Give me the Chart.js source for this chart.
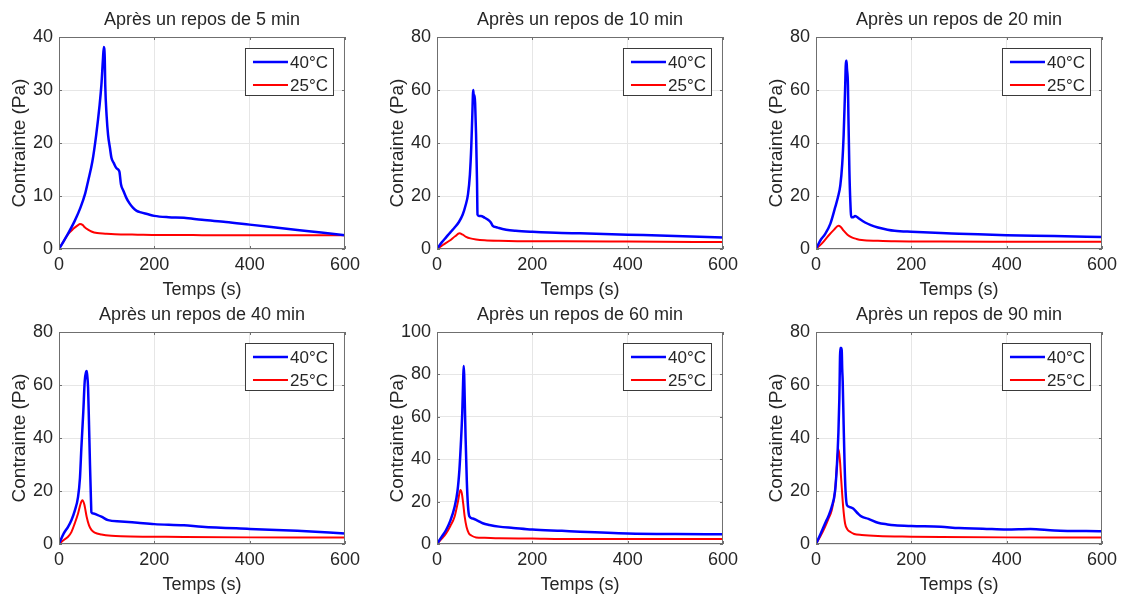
<!DOCTYPE html>
<html>
<head>
<meta charset="utf-8">
<title>Contrainte vs temps</title>
<script src="https://cdn.jsdelivr.net/npm/chart.js@4/dist/chart.umd.min.js"></script>
<style>
  body { margin: 0; background: #fff; overflow: hidden; }
  #wrap { position: relative; width: 1122px; height: 597px; }
  #wrap canvas { position: absolute; }
</style>
</head>
<body>
<div id="wrap">
  <canvas id="c1" width="365" height="301" style="left:0px;top:0px"></canvas>
  <canvas id="c2" width="365" height="301" style="left:378px;top:0px"></canvas>
  <canvas id="c3" width="365" height="301" style="left:757px;top:0px"></canvas>
  <canvas id="c4" width="365" height="301" style="left:0px;top:295px"></canvas>
  <canvas id="c5" width="365" height="301" style="left:378px;top:295px"></canvas>
  <canvas id="c6" width="365" height="301" style="left:757px;top:295px"></canvas>
</div>
<script>
// repos de 5 min
var t05b = [0, 10, 19, 33, 45, 55, 61, 70, 78, 85, 89, 92, 94, 96, 97, 100, 103, 107, 110, 115, 120, 125, 127, 130, 135, 141, 148, 155, 163, 172, 185, 200, 230, 262, 300, 350, 400, 450, 500, 550, 600]
var v05b = [0, 1.5, 2.9, 5.3, 7.8, 10.5, 12.8, 16.5, 21.5, 27, 31, 35.5, 38.1, 36, 31, 25, 21.5, 19, 17.2, 16.2, 15.3, 14.9, 14.5, 12.2, 11, 9.7, 8.6, 7.8, 7.2, 6.9, 6.6, 6.25, 6.0, 5.9, 5.5, 5.1, 4.6, 4.1, 3.6, 3.1, 2.6]
var t05r = [0, 10, 19, 30, 40, 44, 50, 54, 60, 68, 80, 97, 130, 165, 200, 262, 300, 400, 500, 600]
var v05r = [0, 1.5, 2.8, 3.8, 4.5, 4.7, 4.5, 4.1, 3.7, 3.3, 3.0, 2.9, 2.75, 2.7, 2.65, 2.65, 2.6, 2.6, 2.6, 2.6]

// repos de 10 min
var t10b = [0, 10, 19, 28, 37, 46, 54, 60, 65, 69, 72, 74, 76, 77, 79, 80, 82, 84, 85, 88, 92, 100, 110, 113, 117, 125, 130, 145, 165, 200, 262, 300, 400, 500, 600]
var v10b = [0, 2.5, 4.4, 6.3, 8.1, 10.2, 13, 16.5, 20.6, 28, 39, 50, 60, 58, 58, 55, 43, 25, 13, 12.5, 12.5, 11.8, 10.6, 10, 8.7, 8.2, 7.9, 7.3, 6.9, 6.5, 6.0, 5.9, 5.4, 4.9, 4.3]
var t10r = [0, 13, 26, 38, 47, 54, 61, 70, 82, 100, 130, 200, 262, 400, 600]
var v10r = [0, 1.6, 3.1, 4.8, 5.9, 5.4, 4.6, 4.0, 3.6, 3.3, 3.1, 2.9, 2.9, 2.8, 2.6]

// repos de 20 min
var t20b = [0, 10, 19, 30, 40, 46, 51, 55, 58, 61, 63, 64, 65, 67, 68, 70, 72, 74, 78, 82, 90, 103, 115, 130, 150, 165, 200, 262, 300, 400, 500, 600]
var v20b = [0, 3.5, 5.6, 9.5, 15.6, 19.5, 24, 32, 43, 60, 71, 71, 68, 62, 50, 30, 18, 12, 12, 12.5, 11.5, 10, 9, 8.1, 7.3, 6.9, 6.5, 6.0, 5.8, 5.2, 4.9, 4.5]
var t20r = [0, 13, 26, 38, 47, 52, 58, 66, 75, 85, 96, 130, 165, 262, 400, 600]
var v20r = [0, 2.2, 5, 7.3, 8.75, 8.3, 6.9, 5.4, 4.4, 3.8, 3.4, 3.1, 2.9, 2.8, 2.75, 2.7]

// repos de 40 min
var t40b = [0, 10, 19, 26, 33, 40, 44, 47, 51, 54, 57, 58, 59, 61, 63, 65, 67, 68, 72, 80, 89, 103, 130, 165, 200, 262, 300, 400, 500, 600]
var v40b = [0, 4, 6.5, 9, 12.5, 17.8, 25, 36.5, 50, 61.5, 65, 65.3, 64, 59, 45, 30, 17, 12, 11.5, 11, 10.3, 9, 8.5, 8, 7.5, 7.1, 6.5, 5.7, 5.0, 4.0]
var t40r = [0, 10, 19, 26, 33, 40, 45, 49, 53, 58, 63, 68, 75, 89, 110, 130, 200, 262, 400, 600]
var v40r = [0, 1.5, 2.75, 4.5, 7.75, 11.5, 15, 16.5, 15, 10.3, 7, 5.3, 4.3, 3.6, 3.1, 2.9, 2.75, 2.6, 2.5, 2.5]

// repos de 60 min
var t60b = [0, 10, 19, 28, 37, 43, 47, 50, 53, 55, 56, 57, 58, 60, 62.5, 65, 68, 75, 85, 96, 110, 130, 160, 200, 262, 300, 400, 500, 600]
var v60b = [0, 3.5, 6.6, 11, 17.6, 25, 35, 47, 62, 78, 84, 80, 70, 50, 30, 18, 13, 12, 11, 9.8, 9, 8.2, 7.6, 6.8, 6.2, 5.8, 5.0, 4.7, 4.6]
var t60r = [0, 10, 19, 28, 37, 44, 49, 52, 55, 58, 62, 67, 72, 82, 100, 130, 200, 262, 400, 600]
var v60r = [0, 2.5, 5, 8.5, 13, 20, 25.5, 24, 19, 13, 8, 5, 4, 3.1, 2.9, 2.7, 2.6, 2.4, 2.4, 2.3]

// repos de 90 min
var t90b = [0, 10, 19, 26, 33, 40, 44, 47, 49, 51, 53, 54, 55, 56, 58, 60, 62, 65, 70, 78, 88, 96, 110, 130, 150, 165, 200, 262, 300, 350, 400, 450, 500, 600]
var v90b = [0, 4, 7.75, 10.5, 14, 20, 30, 42, 55, 74, 74, 73, 66, 61.5, 45, 30, 20, 14.6, 14, 13.4, 11.5, 10.3, 9.5, 8, 7.4, 7.1, 6.8, 6.5, 6.0, 5.8, 5.5, 5.7, 5.1, 4.8]
var t90r = [0, 10, 19, 26, 33, 40, 44, 47, 50, 53, 57, 61, 66, 71.5, 80, 96, 130, 200, 262, 400, 600]
var v90r = [0, 3.2, 6.5, 9.5, 12.75, 20, 30, 35.9, 32, 24, 14, 7.75, 5.5, 4.6, 3.8, 3.4, 3.0, 2.75, 2.6, 2.5, 2.5]

var titles = ['Après un repos de 5 min', 'Après un repos de 10 min', 'Après un repos de 20 min',
              'Après un repos de 40 min', 'Après un repos de 60 min', 'Après un repos de 90 min']
var yMaxes = [40, 80, 80, 80, 100, 80]
var yStepsz = [10, 20, 20, 20, 20, 20]
var xTicks = [0, 200, 400, 600]
var seriesNames = ['40°C', '25°C']

var fontFam = '"Liberation Sans", Arial, sans-serif'
Chart.defaults.font.family = fontFam
Chart.defaults.color = '#262626'

var txtColor = '#262626'

function pts(t, v){
  return t.map(function(x, i){ return {x: x, y: v[i]} })
}

// box around axes + small inward ticks like matlab
var framePlugin = {
  id: 'frame',
  afterDatasetsDraw: function(chart){
    var ctx = chart.ctx
    var a = chart.chartArea
    var xs = chart.scales.x, ys = chart.scales.y
    ctx.save()
    ctx.strokeStyle = '#6f6f6f'
    ctx.lineWidth = 1
    ctx.strokeRect(a.left + 0.5, a.top + 0.5, a.right - a.left - 1, a.bottom - a.top - 1)
    ctx.beginPath()
    xs.ticks.forEach(function(tk){
      var px = Math.round(xs.getPixelForValue(tk.value)) + 0.5
      ctx.moveTo(px, a.bottom); ctx.lineTo(px, a.bottom - 3)
      ctx.moveTo(px, a.top); ctx.lineTo(px, a.top + 3)
    })
    ys.ticks.forEach(function(tk){
      var py = Math.round(ys.getPixelForValue(tk.value)) + 0.5
      ctx.moveTo(a.left, py); ctx.lineTo(a.left + 3, py)
      ctx.moveTo(a.right, py); ctx.lineTo(a.right - 3, py)
    })
    ctx.stroke()
    ctx.restore()
  }
}

// title centred over the plot area (matlab style), not over the whole canvas
var axTitle = {
  id: 'axTitle',
  afterDraw: function(chart, args, opts){
    var ctx = chart.ctx
    var a = chart.chartArea
    ctx.save()
    ctx.fillStyle = txtColor
    ctx.font = '18px ' + fontFam
    ctx.textAlign = 'center'
    ctx.textBaseline = 'middle'
    ctx.fillText(opts.text, (a.left + a.right) / 2, a.top - 17)
    ctx.restore()
  }
}

// legend box in the top right corner of the plot area
var legendBox = {
  id: 'legendBox',
  afterDraw: function(chart){
    var ctx = chart.ctx
    var a = chart.chartArea
    var w = 88, h = 47
    var bx = a.right - 12 - w, by = a.top + 11
    ctx.save()
    ctx.fillStyle = '#fff'
    ctx.fillRect(bx, by, w, h)
    ctx.strokeStyle = '#3a3a3a'
    ctx.lineWidth = 1
    ctx.strokeRect(bx + 0.5, by + 0.5, w, h)
    chart.data.datasets.forEach(function(ds, i){
      var ly = by + 14 + i * 23
      ctx.strokeStyle = ds.borderColor
      ctx.lineWidth = ds.borderWidth
      ctx.beginPath()
      ctx.moveTo(bx + 8, ly); ctx.lineTo(bx + 43, ly)
      ctx.stroke()
      ctx.fillStyle = txtColor
      ctx.font = '17px ' + fontFam
      ctx.textBaseline = 'middle'
      ctx.textAlign = 'left'
      ctx.fillText(ds.label, bx + 45, ly + 1)
    })
    ctx.restore()
  }
}

function makePanel(id, idx, tb, vb, tr, vr){
  var el = document.getElementById(id)
  return new Chart(el, {
    type: 'line',
    data: {
      datasets: [
        {
          label: seriesNames[0],
          data: pts(tb, vb),
          borderColor: '#0000ff',
          borderWidth: 2.5,
          pointRadius: 0,
          cubicInterpolationMode: 'monotone',
          fill: false
        },
        {
          label: seriesNames[1],
          data: pts(tr, vr),
          borderColor: '#ff0000',
          borderWidth: 2,
          pointRadius: 0,
          cubicInterpolationMode: 'monotone',
          fill: false
        }
      ]
    },
    options: {
      responsive: false,
      animation: false,
      layout: { padding: { left: 0, right: 18, top: 37, bottom: 0 } },
      plugins: {
        legend: { display: false },
        tooltip: { enabled: false },
        title: { display: false },
        axTitle: { text: titles[idx] }
      },
      scales: {
        x: {
          type: 'linear',
          min: 0,
          max: 600,
          afterBuildTicks: function(s){ s.ticks = xTicks.map(function(v){ return {value: v} }) },
          ticks: { font: { size: 18 }, color: txtColor, padding: 5, maxRotation: 0 },
          grid: { color: '#e6e6e6', drawTicks: false },
          border: { display: false },
          title: { display: true, text: 'Temps (s)', color: txtColor, font: { size: 18 }, padding: { top: 0, bottom: 0 } },
          afterFit: function(s){ s.height = 52 }
        },
        y: {
          min: 0,
          max: yMaxes[idx],
          ticks: { stepSize: yStepsz[idx], font: { size: 18 }, color: txtColor, padding: 6 },
          grid: { color: '#e6e6e6', drawTicks: false },
          border: { display: false },
          title: { display: true, text: 'Contrainte (Pa)', color: txtColor, font: { size: 19 }, padding: { top: 8, bottom: 0 } },
          afterFit: function(s){ s.width = 59 }
        }
      }
    },
    plugins: [framePlugin, axTitle, legendBox]
  })
}

makePanel('c1', 0, t05b, v05b, t05r, v05r)
makePanel('c2', 1, t10b, v10b, t10r, v10r)
makePanel('c3', 2, t20b, v20b, t20r, v20r)
makePanel('c4', 3, t40b, v40b, t40r, v40r)
makePanel('c5', 4, t60b, v60b, t60r, v60r)
makePanel('c6', 5, t90b, v90b, t90r, v90r)
</script>
</body>
</html>
